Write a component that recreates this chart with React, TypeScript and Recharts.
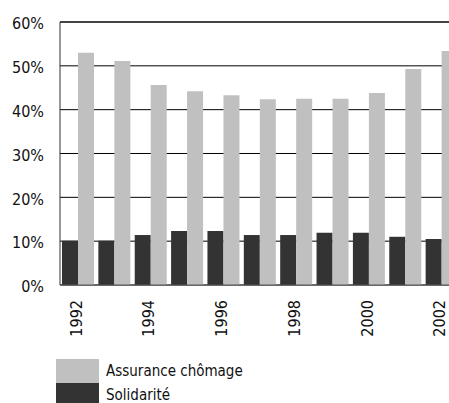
import React from "react";
import { BarChart, Bar, XAxis, YAxis, CartesianGrid, Legend, ReferenceLine } from "recharts";

const years = ["1992", "1993", "1994", "1995", "1996", "1997", "1998", "1999", "2000", "2001", "2002"];
const assuranceChomage = [53.0, 51.1, 45.6, 44.2, 43.3, 42.4, 42.5, 42.5, 43.8, 49.3, 53.4];
const solidarite = [10.1, 10.1, 11.4, 12.3, 12.3, 11.4, 11.4, 11.9, 11.9, 11.0, 10.5];
const yTicks = [0, 10, 20, 30, 40, 50, 60];

const data = years.map((y, i) => ({ year: y, assurance: assuranceChomage[i], solidarite: solidarite[i] }));

const FONT = "'DejaVu Sans Condensed', 'DejaVu Sans', sans-serif";

const XTick = (props: any) => {
  const { x, y, payload } = props;
  return (
    <text
      x={x}
      y={y}
      transform={`rotate(-90, ${x}, ${y})`}
      textAnchor="end"
      dy="0.22em"
      fontSize={16}
      fontFamily={FONT}
      style={{ fontStretch: "condensed" }}
      fill="#111"
    >
      {payload.value}
    </text>
  );
};

const YTick = (props: any) => {
  const { x, y, payload } = props;
  return (
    <text
      x={x}
      y={y}
      textAnchor="end"
      dy="0.45em"
      fontSize={16}
      fontFamily={FONT}
      style={{ fontStretch: "condensed" }}
      fill="#111"
    >
      {payload.value}%
    </text>
  );
};

const LegendContent = () => {
  const items = [
    { label: "Assurance chômage", color: "#c0c0c0" },
    { label: "Solidarité", color: "#333333" },
  ];
  return (
    <div style={{ display: "flex", flexDirection: "column" }}>
      {items.map((it) => (
        <div key={it.label} style={{ display: "flex", alignItems: "center", height: 24 }}>
          <div style={{ width: 43, height: 24, background: it.color }} />
          <span
            style={{
              marginLeft: 7,
              fontSize: 15,
              fontFamily: FONT,
              fontStretch: "condensed",
              color: "#111",
              lineHeight: "24px",
              whiteSpace: "nowrap",
            }}
          >
            {it.label}
          </span>
        </div>
      ))}
    </div>
  );
};

export default function App() {
  return (
    <div style={{ width: 449, height: 403, overflow: "hidden", position: "relative" }}>
      <style>{`html, body { margin: 0; padding: 0; overflow: hidden; }`}</style>
      <div style={{ position: "absolute", left: 8, top: 8 }}>
        <BarChart
          width={452}
          height={395}
          data={data}
          margin={{ top: 14, right: 0, bottom: 0, left: 0 }}
          barCategoryGap={2}
          barGap={0}
        >
          <CartesianGrid horizontal vertical={false} stroke="#000" strokeWidth={1} />
          <ReferenceLine y={60} stroke="#444" strokeWidth={2} />
          <XAxis
            dataKey="year"
            interval={1}
            tickLine={false}
            tickSize={0}
            tickMargin={15}
            height={74}
            axisLine={{ stroke: "#555", strokeWidth: 1 }}
            tick={<XTick />}
          />
          <YAxis
            width={52}
            domain={[0, 60]}
            ticks={yTicks}
            tickLine={false}
            tickSize={0}
            tickMargin={16}
            axisLine={{ stroke: "#333", strokeWidth: 1 }}
            tick={<YTick />}
          />
          <Legend
            verticalAlign="bottom"
            align="left"
            content={<LegendContent />}
            wrapperStyle={{ left: 48, width: 300, height: 44 }}
          />
          <Bar dataKey="solidarite" name="Solidarité" fill="#333333" isAnimationActive={false} />
          <Bar dataKey="assurance" name="Assurance chômage" fill="#c0c0c0" isAnimationActive={false} />
        </BarChart>
      </div>
    </div>
  );
}
